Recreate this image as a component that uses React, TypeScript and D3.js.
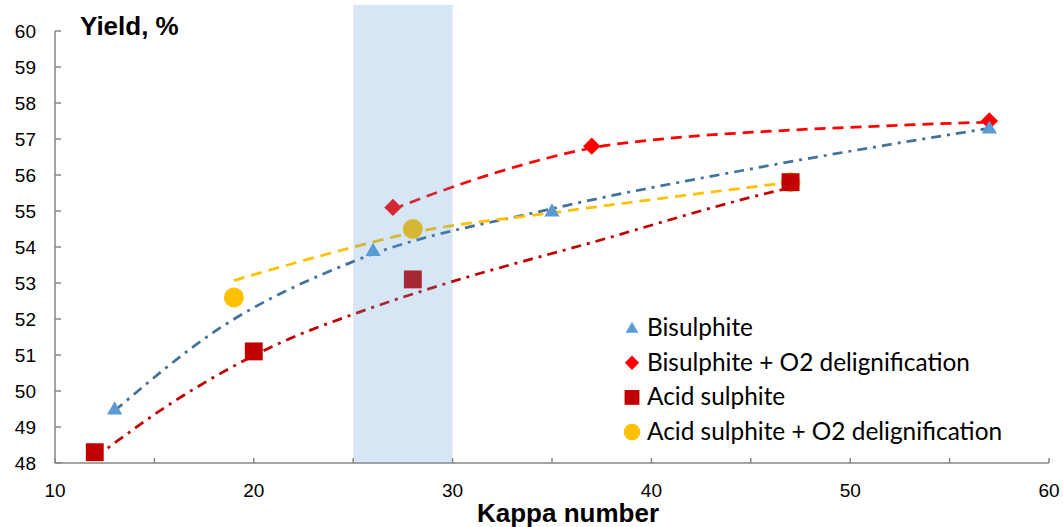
import * as d3 from 'd3';

// data
const bisulphiteX = [13, 26, 35, 57];
const bisulphiteY = [49.5, 53.9, 55.0, 57.3];
const bisO2X = [27, 37, 57];
const bisO2Y = [55.1, 56.8, 57.5];
const acidX = [12, 20, 28, 47];
const acidY = [48.3, 51.1, 53.1, 55.8];
const acidO2X = [19, 28, 47];
const acidO2Y = [52.6, 54.5, 55.8];

// trend lines as drawn in the reference (read at a few kappa numbers)
const bisTrendX = [13, 18, 25.2, 34.9, 45.5, 57];
const bisTrendY = [49.45, 51.64, 53.64, 55.05, 56.22, 57.3];
const bisO2TrendX = [27, 29.4, 33, 37, 41.1, 45.5, 52.9, 57];
const bisO2TrendY = [55.05, 55.55, 56.2, 56.75, 57.03, 57.2, 57.39, 57.47];
const acidTrendX = [12, 16.1, 21.3, 25.2, 29.4, 37.1, 45.5, 47];
const acidTrendY = [48.15, 49.75, 51.33, 52.17, 52.94, 54.14, 55.45, 55.65];
const acidO2TrendX = [19, 24, 28, 35, 47];
const acidO2TrendY = [53.07, 53.85, 54.4, 54.95, 55.8];

const xTicks = [10, 20, 30, 40, 50, 60];
const xMinorTicks = [15, 25, 35, 45, 55];
const yTicks = [48, 49, 50, 51, 52, 53, 54, 55, 56, 57, 58, 59, 60];
const bandRange = [25, 30];

const series = [
  { name: 'Bisulphite', xs: bisulphiteX, ys: bisulphiteY, tx: bisTrendX, ty: bisTrendY, color: '#5B9BD5', line: '#41719C', dash: '10 6 3 6', shape: 'triangle' },
  { name: 'Bisulphite + O2 delignification', xs: bisO2X, ys: bisO2Y, tx: bisO2TrendX, ty: bisO2TrendY, color: '#FF0000', line: '#FF0000', dash: '11 7', shape: 'diamond' },
  { name: 'Acid sulphite', xs: acidX, ys: acidY, tx: acidTrendX, ty: acidTrendY, color: '#C00000', line: '#C00000', dash: '10 6 3 6', shape: 'square' },
  { name: 'Acid sulphite + O2 delignification', xs: acidO2X, ys: acidO2Y, tx: acidO2TrendX, ty: acidO2TrendY, color: '#FFC000', line: '#FFC000', dash: '11 7', shape: 'circle' },
];

function Marker({ shape, color, x, y, s = 1 }: { shape: string; color: string; x: number; y: number; s?: number }) {
  if (shape === 'triangle') {
    const p = d3.symbol(d3.symbolTriangle, 100 * s * s)() ?? '';
    return <path d={p} transform={`translate(${x},${y + 1})`} fill={color} />;
  }
  if (shape === 'diamond') {
    const p = d3.symbol(d3.symbolSquare, 150 * s * s)() ?? '';
    return <path d={p} transform={`translate(${x},${y}) rotate(45)`} fill={color} />;
  }
  if (shape === 'square') {
    const p = d3.symbol(d3.symbolSquare, 320 * s * s)() ?? '';
    return <path d={p} transform={`translate(${x},${y})`} fill={color} />;
  }
  return <circle cx={x} cy={y} r={10 * s} fill={color} />;
}

export default function App() {
  const width = 1063;
  const height = 527;
  const x = d3.scaleLinear().domain([10, 60]).range([55, 1049]);
  const y = d3.scaleLinear().domain([48, 60]).range([463, 31]);
  const axisColor = '#868686';
  const tickFont = '"Liberation Sans", Arial, sans-serif';

  const line = d3
    .line<[number, number]>()
    .x((d) => x(d[0]))
    .y((d) => y(d[1]))
    .curve(d3.curveMonotoneX);

  const trends = series.map((s) => ({
    ...s,
    path: line(s.tx.map((v, i) => [v, s.ty[i]] as [number, number])) ?? '',
  }));

  return (
    <div style={{ position: 'absolute', left: 0, top: 0 }}>
      <svg width={width} height={height} viewBox={`0 0 ${width} ${height}`} style={{ display: 'block', background: '#fff' }}>
        {/* axes */}
        <line x1={x(10)} x2={x(60)} y1={y(48)} y2={y(48)} stroke={axisColor} strokeWidth={1.5} />
        <line x1={x(10)} x2={x(10)} y1={y(48)} y2={y(60)} stroke={axisColor} strokeWidth={1.5} />
        {yTicks.map((t) => (
          <g key={`y${t}`}>
            <line x1={x(10)} x2={x(10) + 6} y1={y(t)} y2={y(t)} stroke={axisColor} strokeWidth={1.5} />
            <text x={36} y={y(t)} dy="0.35em" textAnchor="end" fontFamily={tickFont} fontSize={19} fill="#000">
              {t}
            </text>
          </g>
        ))}
        {[...xTicks, ...xMinorTicks].map((t) => (
          <line key={`xt${t}`} x1={x(t)} x2={x(t)} y1={y(48)} y2={y(48) - 5} stroke={axisColor} strokeWidth={1.5} />
        ))}
        {xTicks.map((t) => (
          <text key={`xl${t}`} x={x(t)} y={497} textAnchor="middle" fontFamily={tickFont} fontSize={19} fill="#000">
            {t}
          </text>
        ))}

        {/* trend lines */}
        {trends.map((s) => (
          <path key={`tr${s.name}`} d={s.path} fill="none" stroke={s.line} strokeWidth={2.75} strokeDasharray={s.dash} />
        ))}

        {/* markers, last series first so the hidden ones stay under */}
        {series
          .slice()
          .reverse()
          .map((s) =>
            s.xs.map((v, i) => <Marker key={`${s.name}${i}`} shape={s.shape} color={s.color} x={x(v)} y={y(s.ys[i])} />)
          )}

        {/* highlighted kappa band */}
        <rect
          x={x(bandRange[0])}
          width={x(bandRange[1]) - x(bandRange[0])}
          y={y(60) - 26}
          height={y(48) - y(60) + 26}
          fill="#5B9BD5"
          opacity={0.25}
        />

        <text x={80} y={35} fontFamily={tickFont} fontSize={26} fontWeight="bold" fill="#000">
          Yield, %
        </text>
        <text x={477} y={522} fontFamily={tickFont} fontSize={26} fontWeight="bold" fill="#000">
          Kappa number
        </text>

        {/* legend */}
        {series.map((s, i) => (
          <g key={`lg${s.name}`} transform={`translate(632, ${328 + i * 34.7})`}>
            <Marker shape={s.shape} color={s.color} x={0} y={0} s={0.83} />
            <text x={15} y={0} dy="0.32em" fontFamily='Lato, "Open Sans", sans-serif' fontSize={24.4} fill="#000">
              {s.name}
            </text>
          </g>
        ))}
      </svg>
    </div>
  );
}
